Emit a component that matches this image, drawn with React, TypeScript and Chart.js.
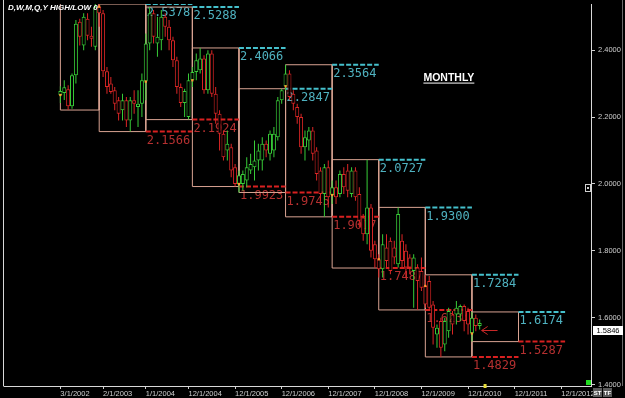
import React, { useEffect, useRef } from "react";
import { Chart, registerables } from "chart.js";

Chart.register(...registerables);

// Monthly candles, first candle = March 2002 (month index counted from Jan 2002 = 0)
const FIRST_MONTH = 2;

const opens = [
  2.266, 2.272, 2.283, 2.232, 2.325, 2.485, 2.414, 2.494, 2.443, 2.410,
  2.530, 2.510, 2.337, 2.300, 2.280, 2.250, 2.220, 2.250, 2.190, 2.250, 2.230, 2.240,
  2.306, 2.420, 2.510, 2.420, 2.430, 2.500, 2.470, 2.430, 2.370, 2.290, 2.242, 2.200,
  2.310, 2.335, 2.340, 2.375, 2.280, 2.390, 2.270, 2.210, 2.150, 2.100, 2.110, 2.050,
  2.000, 2.000, 2.010, 2.040, 2.050, 2.070, 2.070, 2.120, 2.090, 2.100, 2.140, 2.250,
  2.292, 2.330, 2.270, 2.230, 2.200, 2.110, 2.130, 2.160, 2.100, 2.040, 1.970, 2.050,
  1.967, 1.990, 1.970, 2.030, 2.040, 1.970, 2.040, 1.970, 1.900, 1.850, 1.930, 1.820,
  1.775, 1.745, 1.810, 1.830, 1.810, 1.760, 1.830, 1.800, 1.780, 1.740, 1.750, 1.740,
  1.695, 1.710, 1.640, 1.550, 1.590, 1.520, 1.560, 1.610, 1.610, 1.610, 1.635, 1.620,
  1.553, 1.600, 1.575,
];
const highs = [
  2.292, 2.310, 2.295, 2.330, 2.490, 2.494, 2.510, 2.510, 2.470, 2.560,
  2.5378, 2.520, 2.350, 2.320, 2.290, 2.260, 2.270, 2.260, 2.260, 2.280, 2.280, 2.330,
  2.450, 2.5288, 2.520, 2.500, 2.520, 2.510, 2.490, 2.440, 2.380, 2.300, 2.285, 2.330,
  2.350, 2.390, 2.4066, 2.385, 2.400, 2.400, 2.290, 2.220, 2.160, 2.160, 2.120, 2.060,
  2.040, 2.040, 2.080, 2.090, 2.130, 2.120, 2.140, 2.130, 2.160, 2.170, 2.260, 2.2847,
  2.3564, 2.340, 2.280, 2.240, 2.210, 2.160, 2.170, 2.170, 2.110, 2.050, 2.060, 2.070,
  2.010, 2.010, 2.040, 2.050, 2.060, 2.050, 2.050, 1.990, 1.910, 2.0727, 1.940, 1.830,
  1.790, 1.850, 1.850, 1.840, 1.830, 1.930, 1.850, 1.820, 1.790, 1.790, 1.760, 1.780,
  1.7284, 1.725, 1.650, 1.580, 1.600, 1.600, 1.630, 1.620, 1.650, 1.640, 1.640, 1.630,
  1.6174, 1.610, 1.595,
];
const lows = [
  2.242, 2.251, 2.221, 2.225, 2.300, 2.414, 2.400, 2.430, 2.410, 2.400,
  2.470, 2.320, 2.270, 2.270, 2.220, 2.190, 2.190, 2.170, 2.1566, 2.210, 2.170, 2.200,
  2.250, 2.400, 2.420, 2.380, 2.400, 2.440, 2.400, 2.350, 2.270, 2.230, 2.200, 2.1924,
  2.290, 2.310, 2.330, 2.270, 2.270, 2.260, 2.180, 2.100, 2.070, 2.070, 2.020, 1.9923,
  1.9745, 1.980, 1.990, 2.030, 2.010, 2.040, 2.040, 2.080, 2.070, 2.080, 2.130, 2.240,
  2.280, 2.250, 2.220, 2.180, 2.090, 2.070, 2.100, 2.070, 2.010, 1.950, 1.9017, 1.930,
  1.940, 1.940, 1.960, 1.970, 1.960, 1.960, 1.950, 1.870, 1.830, 1.820, 1.780, 1.7487,
  1.720, 1.720, 1.750, 1.730, 1.760, 1.750, 1.750, 1.720, 1.730, 1.630, 1.6234, 1.680,
  1.630, 1.620, 1.520, 1.510, 1.4829, 1.500, 1.540, 1.550, 1.580, 1.590, 1.560, 1.550,
  1.5287, 1.560, 1.565,
];
const closes = [
  2.278, 2.289, 2.232, 2.325, 2.479, 2.440, 2.500, 2.443, 2.434, 2.530,
  2.510, 2.337, 2.290, 2.275, 2.240, 2.210, 2.250, 2.190, 2.250, 2.240, 2.240, 2.310,
  2.420, 2.510, 2.440, 2.440, 2.500, 2.470, 2.430, 2.370, 2.290, 2.242, 2.278, 2.310,
  2.335, 2.370, 2.375, 2.280, 2.390, 2.270, 2.210, 2.150, 2.080, 2.120, 2.040, 2.000,
  2.026, 2.030, 2.050, 2.060, 2.070, 2.100, 2.120, 2.100, 2.150, 2.150, 2.250, 2.280,
  2.330, 2.260, 2.240, 2.200, 2.110, 2.140, 2.160, 2.090, 2.030, 1.970, 2.050, 1.960,
  1.990, 1.960, 2.030, 1.990, 1.980, 2.040, 1.960, 1.890, 1.850, 1.930, 1.800, 1.775,
  1.745, 1.820, 1.770, 1.740, 1.780, 1.910, 1.770, 1.750, 1.750, 1.780, 1.710, 1.690,
  1.640, 1.630, 1.570, 1.570, 1.510, 1.590, 1.620, 1.580, 1.630, 1.635, 1.590, 1.580,
  1.600, 1.575, 1.5846,
];

// Yearly high/low boxes
const yearNames = ["2002", "2003", "2004", "2005", "2006", "2007", "2008", "2009", "2010", "2011"];
const yearStart = [2, 12, 24, 36, 48, 60, 72, 84, 96, 108];
const yearEnd = [12, 24, 36, 48, 60, 72, 84, 96, 108, 120];
const yearHigh = [2.56, 2.5378, 2.5288, 2.4066, 2.2847, 2.3564, 2.0727, 1.93, 1.7284, 1.6174];
const yearLow = [2.221, 2.1566, 2.1924, 1.9923, 1.9745, 1.9017, 1.7487, 1.6234, 1.4829, 1.5287];

// Axis ticks
const xTickMonths = [2, 13, 24, 35, 47, 59, 71, 83, 95, 107, 119, 131];
const xTickLabels = [
  "3/1/2002", "2/1/2003", "1/1/2004", "12/1/2004", "12/1/2005", "12/1/2006",
  "12/1/2007", "12/1/2008", "12/1/2009", "12/1/2010", "12/1/2011", "12/1/2012",
];
const yTickValues = [1.4, 1.6, 1.8, 2.0, 2.2, 2.4];
const lastPrice = 1.5846;

// Annotations
const titleText = "D,W,M,Q,Y HIGH/LOW 0";
const monthlyNote = { month: 95.5, price: 2.33, text: "MONTHLY" };
const arrowNote = { from: 114.6, to: 110.5, price: 1.5646 };

const UP = "#38cc38";
const DOWN = "#dc2626";
const BOX = "#d9a392";
const HI_LINE = "#45c0cc";
const LO_LINE = "#d82020";
const HI_TXT = "#4fb2c0";
const LO_TXT = "#b53030";
const AXIS_TXT = "#cfcfcf";

export default function App() {
  const ref = useRef<HTMLCanvasElement>(null);

  useEffect(() => {
    document.body.style.margin = "0";
    document.body.style.background = "#000";
    const canvas = ref.current;
    if (!canvas) return;

    const months = opens.map((_, i) => FIRST_MONTH + i);
    const colors = opens.map((o, i) => (closes[i] >= o ? UP : DOWN));

    const boxData: any[] = [];
    yearStart.forEach((s, i) => {
      const e = yearEnd[i];
      boxData.push(
        { x: s, y: yearLow[i] },
        { x: s, y: yearHigh[i] },
        { x: e, y: yearHigh[i] },
        { x: e, y: yearLow[i] },
        { x: s, y: yearLow[i] },
        { x: e, y: null }
      );
    });
    const hiData: any[] = [];
    const loData: any[] = [];
    for (let i = 1; i < yearNames.length; i++) {
      const s = yearEnd[i];
      const e = yearEnd[i] + 12;
      hiData.push({ x: s, y: yearHigh[i] }, { x: e, y: yearHigh[i] }, { x: e, y: null });
      loData.push({ x: s, y: yearLow[i] }, { x: e, y: yearLow[i] }, { x: e, y: null });
    }
    const openMarks = yearStart.map((s) => ({ x: s, y: opens[s - FIRST_MONTH] }));

    const decor = {
      id: "decor",
      beforeDatasetsDraw(chart: any) {
        const { ctx, scales } = chart;
        const x = scales.x;
        const y = scales.y;
        ctx.save();
        ctx.font = '12px "DejaVu Sans Mono", monospace';
        ctx.textBaseline = "top";
        ctx.textAlign = "left";
        for (let i = 1; i < yearNames.length; i++) {
          const px = x.getPixelForValue(yearEnd[i]) + 1;
          ctx.fillStyle = HI_TXT;
          ctx.fillText(yearHigh[i].toFixed(4), px, y.getPixelForValue(yearHigh[i]) + 3);
          ctx.fillStyle = LO_TXT;
          ctx.fillText(yearLow[i].toFixed(4), px, y.getPixelForValue(yearLow[i]) + 3);
        }
        ctx.restore();
      },
      afterDraw(chart: any) {
        const { ctx, chartArea, scales } = chart;
        const x = scales.x;
        const y = scales.y;
        ctx.save();
        // frame
        ctx.strokeStyle = "#d8d8d8";
        ctx.lineWidth = 1;
        ctx.beginPath();
        ctx.moveTo(chartArea.left - 0.5, 0);
        ctx.lineTo(chartArea.left - 0.5, chartArea.bottom + 0.5);
        ctx.stroke();
        ctx.strokeStyle = "#6a6a6a";
        ctx.beginPath();
        ctx.moveTo(chart.width - 2.5, 0);
        ctx.lineTo(chart.width - 2.5, chartArea.bottom);
        ctx.stroke();

        // title
        ctx.fillStyle = "#ffffff";
        ctx.font = 'italic bold 8px "Liberation Sans", Arial, sans-serif';
        ctx.textBaseline = "top";
        ctx.textAlign = "left";
        ctx.fillText(titleText, chartArea.left + 4, 4);

        // MONTHLY
        const mx = x.getPixelForValue(monthlyNote.month);
        const my = y.getPixelForValue(monthlyNote.price);
        ctx.font = 'bold 10.5px "Liberation Sans", Arial, sans-serif';
        ctx.fillText(monthlyNote.text, mx, my - 1);
        const w = ctx.measureText(monthlyNote.text).width;
        ctx.fillRect(mx, my + 9, w, 1);

        // arrow
        const ay = Math.round(y.getPixelForValue(arrowNote.price)) + 0.5;
        const ax1 = x.getPixelForValue(arrowNote.to);
        const ax2 = x.getPixelForValue(arrowNote.from);
        ctx.strokeStyle = "#c82828";
        ctx.beginPath();
        ctx.moveTo(ax2, ay);
        ctx.lineTo(ax1, ay);
        ctx.moveTo(ax1 + 6, ay - 4);
        ctx.lineTo(ax1, ay);
        ctx.lineTo(ax1 + 6, ay + 4);
        ctx.stroke();

        // current price box
        const py = Math.round(y.getPixelForValue(lastPrice)) + 3;
        ctx.fillStyle = "#ffffff";
        ctx.fillRect(chartArea.right + 2, py, 30, 9);
        ctx.fillStyle = "#000";
        ctx.font = '7.5px "Liberation Sans", Arial, sans-serif';
        ctx.textAlign = "center";
        ctx.textBaseline = "middle";
        ctx.fillText(lastPrice.toFixed(4), chartArea.right + 17, py + 5);

        // small widgets
        ctx.fillStyle = "#22dd22";
        ctx.fillRect(chartArea.right - 5, chartArea.bottom - 6, 5, 5);
        ctx.fillStyle = "#e6dc3a";
        ctx.fillRect(x.getPixelForValue(months[months.length - 1] + 1), chartArea.bottom - 2, 3, 4);
        ctx.strokeStyle = "#cfcfcf";
        ctx.strokeRect(chartArea.right - 5.5, 184.5, 5, 7);
        ctx.fillStyle = "#cfcfcf";
        ctx.fillRect(chartArea.right - 4, 187, 2, 2);
        ctx.fillStyle = "#5a5a5a";
        ctx.fillRect(chartArea.right + 2, chartArea.bottom + 2, 9, 9);
        ctx.fillRect(chartArea.right + 12, chartArea.bottom + 2, 9, 9);
        ctx.fillStyle = "#ffffff";
        ctx.font = 'bold 6px "Liberation Sans", Arial, sans-serif';
        ctx.fillText("ST", chartArea.right + 6.5, chartArea.bottom + 7);
        ctx.fillText("TF", chartArea.right + 16.5, chartArea.bottom + 7);
        ctx.restore();
      },
    };

    const chart = new Chart(canvas, {
      type: "bar",
      data: {
        datasets: [
          {
            type: "line",
            data: openMarks,
            showLine: false,
            pointStyle: "rect",
            pointRadius: 1.6,
            pointBackgroundColor: "#ff9a30",
            pointBorderWidth: 0,
            order: -1,
          } as any,
          {
            type: "bar",
            data: months.map((m, i) => ({ x: m, y: [opens[i], closes[i]] })),
            backgroundColor: "#000000",
            borderColor: colors,
            borderWidth: 1,
            borderSkipped: false,
            barThickness: 4,
            grouped: false,
            inflateAmount: 0,
            order: 0,
          } as any,
          {
            type: "bar",
            data: months.map((m, i) => ({ x: m, y: [lows[i], highs[i]] })),
            backgroundColor: colors,
            borderWidth: 0,
            barThickness: 1,
            grouped: false,
            inflateAmount: 0,
            order: 1,
          } as any,
          {
            type: "line",
            data: hiData,
            borderColor: HI_LINE,
            borderWidth: 2,
            borderDash: [5, 2],
            pointRadius: 0,
            spanGaps: false,
            tension: 0,
            order: 2,
          } as any,
          {
            type: "line",
            data: loData,
            borderColor: LO_LINE,
            borderWidth: 2,
            borderDash: [5, 2],
            pointRadius: 0,
            spanGaps: false,
            tension: 0,
            order: 2,
          } as any,
          {
            type: "line",
            data: boxData,
            borderColor: BOX,
            borderWidth: 1,
            pointRadius: 0,
            spanGaps: false,
            tension: 0,
            order: 4,
          } as any,
        ],
      },
      options: {
        responsive: false,
        animation: false,
        devicePixelRatio: 1,
        events: [],
        layout: { padding: { left: 3, right: 0, top: 0, bottom: 0 } },
        plugins: { legend: { display: false }, tooltip: { enabled: false } },
        scales: {
          x: {
            type: "linear",
            min: -12.52,
            max: 138.67,
            offset: false,
            afterBuildTicks: (s: any) => {
              s.ticks = xTickMonths.map((v) => ({ value: v }));
            },
            afterFit: (s: any) => {
              s.height = 12;
              s.paddingLeft = 0;
              s.paddingRight = 0;
            },
            grid: { offset: false, drawOnChartArea: false, drawTicks: true, tickLength: 3, color: "#cfcfcf" },
            border: { display: true, color: "#d8d8d8" },
            ticks: {
              autoSkip: false,
              maxRotation: 0,
              minRotation: 0,
              align: "start",
              padding: 0,
              color: AXIS_TXT,
              font: { family: '"Liberation Sans", Arial, sans-serif', size: 7.5 },
              callback: (_v: any, i: number) => xTickLabels[i] ?? "",
            },
          },
          y: {
            type: "linear",
            position: "right",
            min: 1.396,
            max: 2.538,
            beginAtZero: false,
            afterBuildTicks: (s: any) => {
              s.ticks = yTickValues.map((v) => ({ value: v }));
            },
            afterFit: (s: any) => {
              s.width = 34;
              s.paddingTop = 0;
              s.paddingBottom = 0;
            },
            grid: { drawOnChartArea: false, drawTicks: true, tickLength: 4, color: "#cfcfcf" },
            border: { display: true, color: "#d8d8d8" },
            ticks: {
              padding: 3,
              color: AXIS_TXT,
              font: { family: '"Liberation Sans", Arial, sans-serif', size: 7.5 },
              callback: (v: any) => Number(v).toFixed(4),
            },
          },
        },
      } as any,
      plugins: [decor],
    });

    return () => chart.destroy();
  }, []);

  return (
    <div style={{ position: "fixed", left: 0, top: 0, width: 625, height: 398, background: "#000" }}>
      <canvas ref={ref} width={625} height={398} style={{ display: "block" }} />
    </div>
  );
}
